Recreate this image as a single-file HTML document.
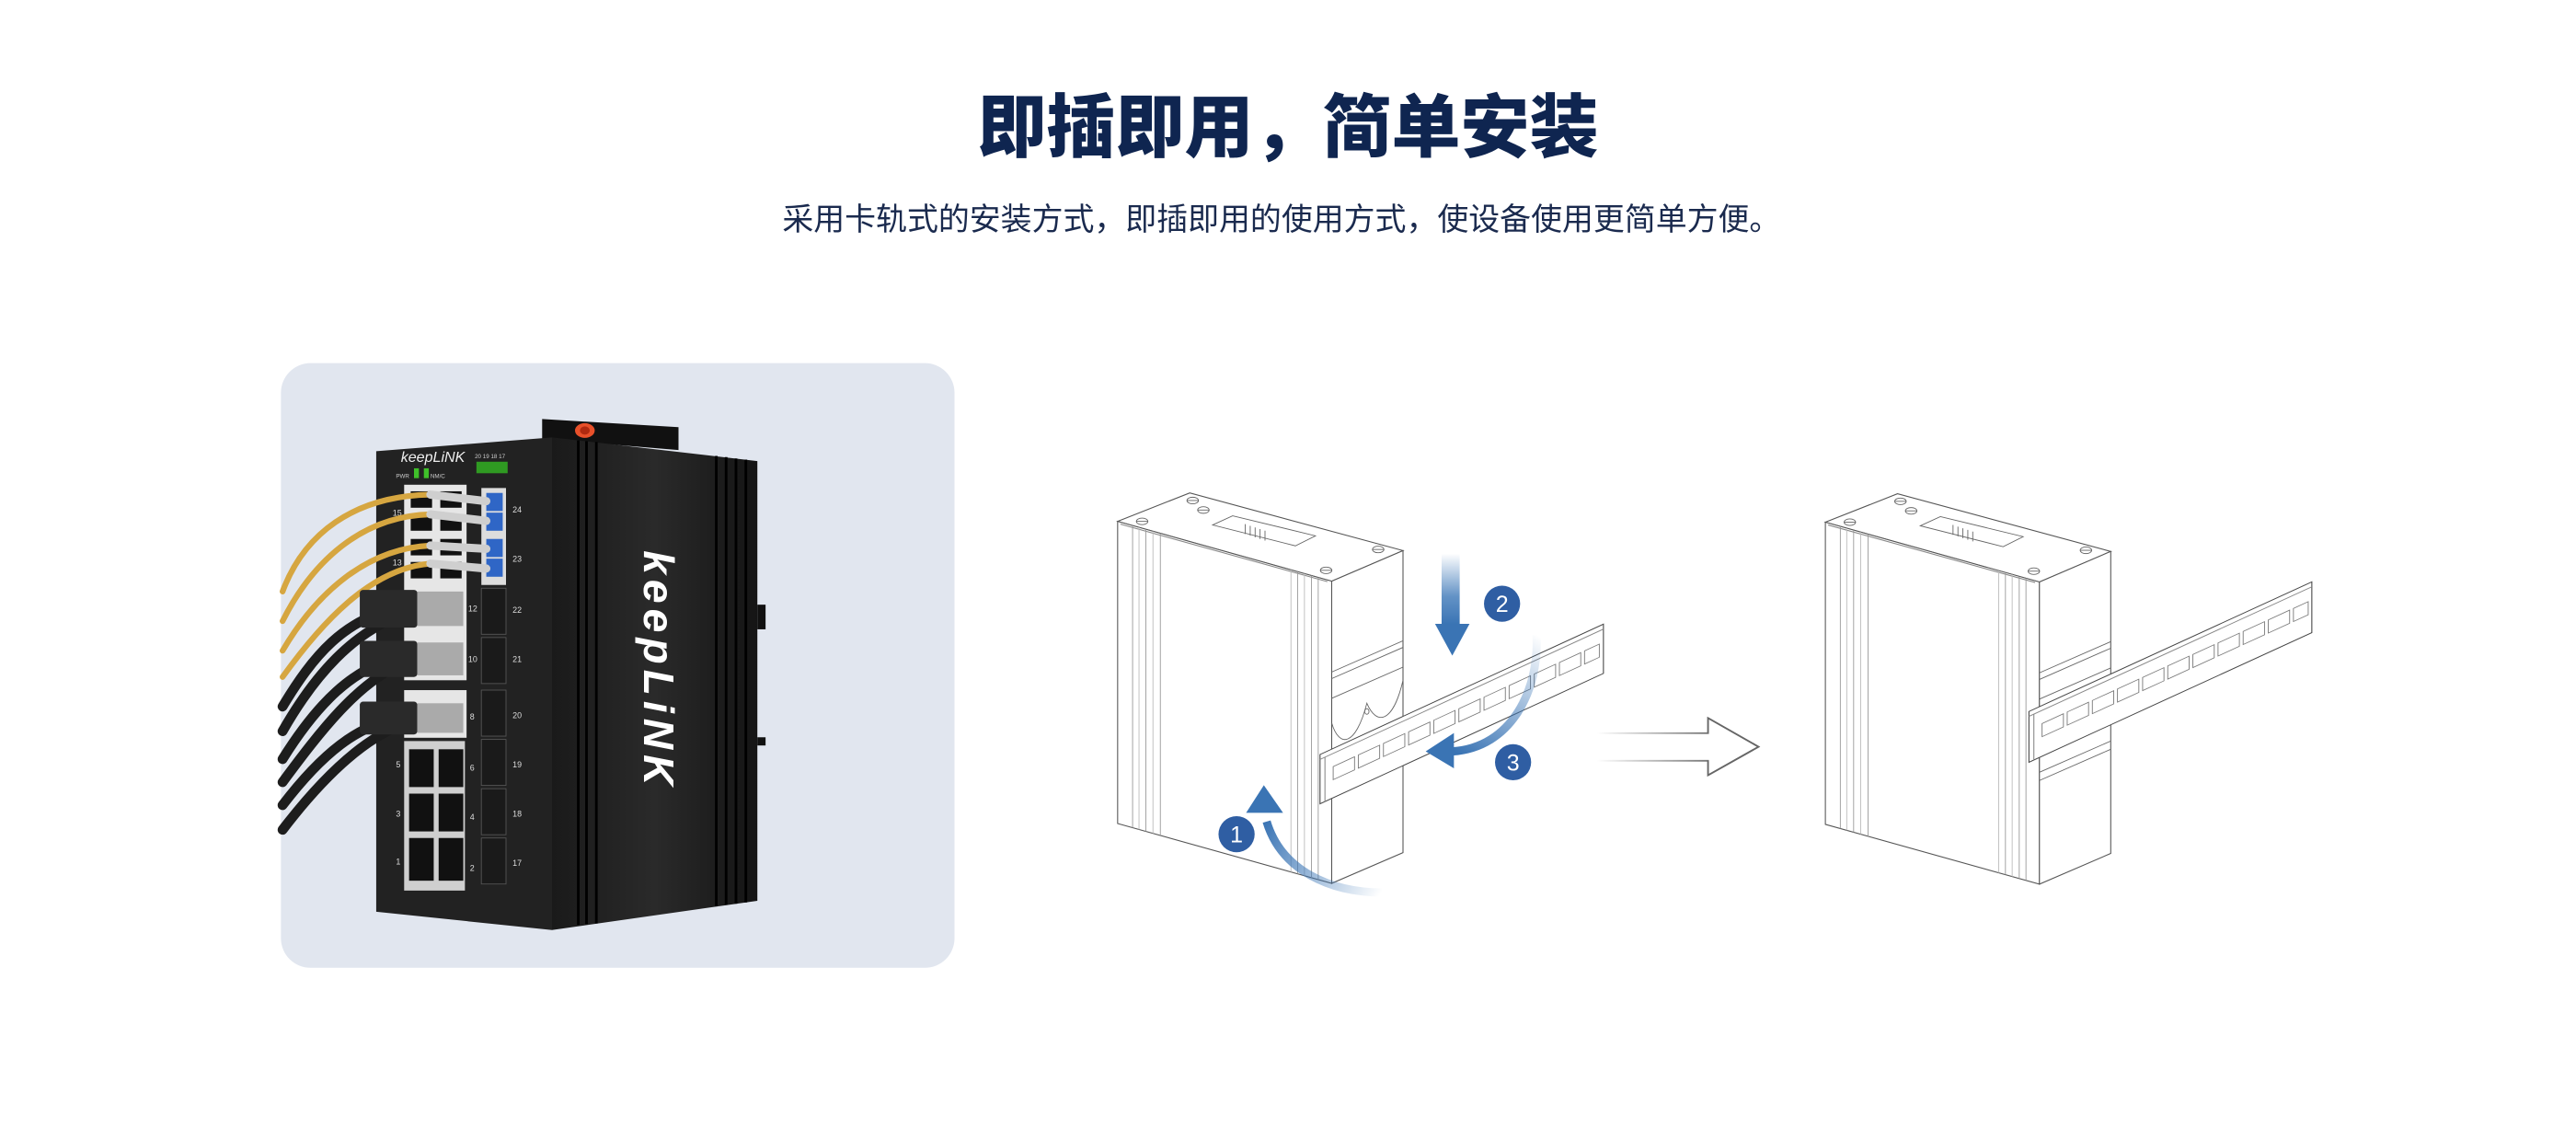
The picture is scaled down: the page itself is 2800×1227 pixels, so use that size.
<!DOCTYPE html>
<html><head><meta charset="utf-8">
<style>
html,body{margin:0;padding:0;background:#fff;}
body{width:2800px;height:1227px;overflow:hidden;}
svg{display:block;}
</style></head>
<body>
<svg width="2800" height="1227" viewBox="0 0 1568 687.1" xmlns="http://www.w3.org/2000/svg">
<defs>
  <linearGradient id="g2" x1="0" y1="0" x2="0" y2="1">
    <stop offset="0" stop-color="#3d78b8" stop-opacity="0"/>
    <stop offset="0.6" stop-color="#3d78b8" stop-opacity="0.8"/>
    <stop offset="1" stop-color="#3a74b4"/>
  </linearGradient>
  <linearGradient id="g3" gradientUnits="userSpaceOnUse" x1="935" y1="386" x2="890" y2="460">
    <stop offset="0" stop-color="#3d78b8" stop-opacity="0"/>
    <stop offset="1" stop-color="#3a74b4"/>
  </linearGradient>
  <linearGradient id="g1" gradientUnits="userSpaceOnUse" x1="841" y1="543" x2="770" y2="500">
    <stop offset="0" stop-color="#3d78b8" stop-opacity="0"/>
    <stop offset="1" stop-color="#3a74b4"/>
  </linearGradient>
  <linearGradient id="ga" gradientUnits="userSpaceOnUse" x1="972" y1="0" x2="1040" y2="0">
    <stop offset="0" stop-color="#777" stop-opacity="0"/>
    <stop offset="1" stop-color="#777"/>
  </linearGradient>
  <linearGradient id="side" x1="0" y1="0" x2="1" y2="0">
    <stop offset="0" stop-color="#1a1a1a"/>
    <stop offset="0.5" stop-color="#2a2a2a"/>
    <stop offset="1" stop-color="#151515"/>
  </linearGradient>
  <g id="holes" fill="none" stroke="#777" stroke-width="0.5">
    <rect x="8" y="11" width="13" height="8"/><rect x="23.3" y="11" width="13" height="8"/>
    <rect x="38.6" y="11" width="13" height="8"/><rect x="53.9" y="11" width="13" height="8"/>
    <rect x="69.2" y="11" width="13" height="8"/><rect x="84.5" y="11" width="13" height="8"/>
    <rect x="99.8" y="11" width="13" height="8"/><rect x="115.1" y="11" width="13" height="8"/>
    <rect x="130.4" y="11" width="13" height="8"/><rect x="145.7" y="11" width="13" height="8"/>
    <rect x="161" y="11" width="9" height="8"/>
  </g>
  <g id="box" fill="#fff" stroke="#555" stroke-width="0.6">
    <polygon points="680.3,317.3 724.2,300 854,335.1 810.6,353.7"/>
    <polygon points="680.3,317.3 810.6,353.7 810.6,537.6 680.3,501.2"/>
    <polygon points="810.6,353.7 854,335.1 854,518.9 810.6,537.6"/>
    <line x1="682" y1="319" x2="808" y2="354" stroke="#888"/>
    <g stroke="#999" stroke-width="0.5">
      <line x1="689.4" y1="319.8" x2="689.4" y2="503.7"/>
      <line x1="693.3" y1="320.9" x2="693.3" y2="504.8" stroke="#bbb"/>
      <line x1="697.5" y1="322.1" x2="697.5" y2="506"/>
      <line x1="701.8" y1="323.3" x2="701.8" y2="507.2" stroke="#bbb"/>
      <line x1="706.3" y1="324.6" x2="706.3" y2="508.5"/>
      <line x1="785.8" y1="346.8" x2="785.8" y2="530.7" stroke="#bbb"/>
      <line x1="789.9" y1="347.9" x2="789.9" y2="531.8"/>
      <line x1="794" y1="349.1" x2="794" y2="533" stroke="#bbb"/>
      <line x1="798.3" y1="350.3" x2="798.3" y2="534.2"/>
      <line x1="802.4" y1="351.4" x2="802.4" y2="535.3"/>
    </g>
    <g stroke="#666" stroke-width="0.5" fill="none">
      <ellipse cx="726" cy="304.6" rx="3.5" ry="2"/><line x1="722.5" y1="304.6" x2="729.5" y2="304.6"/>
      <ellipse cx="732.5" cy="310.4" rx="3.5" ry="2"/><line x1="729" y1="310.4" x2="736" y2="310.4"/>
      <ellipse cx="695.2" cy="317.3" rx="3.5" ry="2"/><line x1="691.7" y1="317.3" x2="698.7" y2="317.3"/>
      <ellipse cx="838.9" cy="334.4" rx="3.5" ry="2"/><line x1="835.4" y1="334.4" x2="842.4" y2="334.4"/>
      <ellipse cx="807.2" cy="347.1" rx="3.5" ry="2"/><line x1="803.7" y1="347.1" x2="810.7" y2="347.1"/>
      <polygon points="738.1,319.5 750.3,313.9 800.7,326.1 788.5,332.2"/>
      <path d="M758,319 v6 M761,320 v6 M764,321 v6 M767,322 v6 M770,323 v6"/>
      <line x1="810.6" y1="409" x2="854" y2="390"/>
      <line x1="810.6" y1="413" x2="854" y2="394"/>
      <line x1="810.6" y1="425" x2="854" y2="406"/>
      <path d="M810.6,440 C815,455 825,455 832,428 C838,442 848,440 854,414"/>
      <ellipse cx="832" cy="433" rx="1.3" ry="1.7"/>
    </g>
  </g>
</defs>

<text x="784" y="92" text-anchor="middle" font-family="'Liberation Sans','Noto Sans CJK SC',sans-serif" font-weight="900" font-size="42" fill="#0f2550">即插即用，简单安装</text>
<text x="780" y="140" text-anchor="middle" font-family="'Liberation Sans','Noto Sans CJK SC',sans-serif" font-size="19" fill="#1a2a4e">采用卡轨式的安装方式，即插即用的使用方式，使设备使用更简单方便。</text>

<rect x="171" y="221" width="410" height="368" rx="18" fill="#e1e6ef"/>

<g>
  <polygon points="330,255 413,260 413,273.9 330,267" fill="#111"/>
  <ellipse cx="356" cy="262" rx="6" ry="4.5" fill="#e8502a"/>
  <ellipse cx="356" cy="262" rx="3" ry="2.5" fill="#b02a10"/>
  <polygon points="336,266.2 461,280.6 461,548.2 336,566" fill="url(#side)"/>
  <g stroke="#000" stroke-width="1.6">
    <line x1="352" y1="268" x2="352" y2="563"/>
    <line x1="357" y1="268.5" x2="357" y2="562.5"/>
    <line x1="363" y1="269" x2="363" y2="562"/>
    <line x1="436" y1="277.5" x2="436" y2="551.5"/>
    <line x1="442" y1="278.2" x2="442" y2="550.7"/>
    <line x1="448" y1="279" x2="448" y2="550"/>
    <line x1="454" y1="279.7" x2="454" y2="549.2"/>
  </g>
  <rect x="461" y="368" width="5" height="15" fill="#111"/>
  <rect x="461" y="448.7" width="5" height="5" fill="#111"/>
  <polygon points="229,274.6 336,266.2 336,566 229,554.9" fill="#222"/>
  <text transform="translate(392,335) rotate(90)" font-family="'Liberation Sans',sans-serif" font-style="italic" font-weight="bold" font-size="26" fill="#fff" textLength="143">keepLiNK</text>
  <text x="244" y="281" font-family="'Liberation Sans',sans-serif" font-style="italic" font-size="9" fill="#eee">keepLiNK</text>
  <text x="241" y="291" font-family="'Liberation Sans',sans-serif" font-size="3.5" fill="#ccc">PWR</text>
  <rect x="252" y="285" width="3" height="6" fill="#3fbf2a"/>
  <rect x="258" y="285" width="3" height="6" fill="#3fbf2a"/>
  <text x="262" y="291" font-family="'Liberation Sans',sans-serif" font-size="3.5" fill="#ccc">NM/C</text>
  <text x="289" y="279" font-family="'Liberation Sans',sans-serif" font-size="3.5" fill="#ccc">20 19 18 17</text>
  <rect x="290" y="281" width="19" height="7" fill="#2f9a22"/>
  <rect x="246" y="295" width="38" height="119" fill="#e6e6e6"/>
  <rect x="246" y="420" width="38" height="29" fill="#e6e6e6"/>
  <rect x="246" y="451" width="37" height="91" fill="#cfcfcf"/>
  <g fill="#111">
    <rect x="250" y="299" width="13" height="10"/><rect x="268" y="299" width="13" height="10"/>
    <rect x="250" y="313" width="13" height="10"/><rect x="268" y="313" width="13" height="10"/>
    <rect x="250" y="328" width="13" height="10"/><rect x="268" y="328" width="13" height="10"/>
    <rect x="250" y="342" width="13" height="10"/><rect x="268" y="342" width="13" height="10"/>
    <rect x="249" y="456" width="15" height="23"/><rect x="267" y="456" width="15" height="23"/>
    <rect x="249" y="483" width="15" height="23"/><rect x="267" y="483" width="15" height="23"/>
    <rect x="249" y="510" width="15" height="26"/><rect x="267" y="510" width="15" height="26"/>
  </g>
  <rect x="293" y="297" width="15" height="59" fill="#ddd"/>
  <g fill="#2f66c6">
    <rect x="296" y="300" width="10" height="11"/><rect x="296" y="312" width="10" height="11"/>
    <rect x="296" y="328" width="10" height="11"/><rect x="296" y="340" width="10" height="11"/>
  </g>
  <g fill="#1a1a1a" stroke="#555" stroke-width="0.5">
    <rect x="293" y="358" width="15" height="28"/><rect x="293" y="388" width="15" height="28"/>
    <rect x="293" y="420" width="15" height="28"/><rect x="293" y="450" width="15" height="28"/>
    <rect x="293" y="480" width="15" height="28"/><rect x="293" y="510" width="15" height="28"/>
  </g>
  <g font-family="'Liberation Sans',sans-serif" font-size="5" fill="#ddd">
    <text x="312" y="312">24</text><text x="312" y="342">23</text><text x="312" y="373">22</text>
    <text x="312" y="403">21</text><text x="312" y="437">20</text><text x="312" y="467">19</text>
    <text x="312" y="497">18</text><text x="312" y="527">17</text>
    <text x="239" y="314">15</text><text x="239" y="344">13</text>
    <text x="285" y="372">12</text><text x="285" y="403">10</text><text x="286" y="438">8</text>
    <text x="241" y="467">5</text><text x="286" y="469">6</text><text x="241" y="497">3</text>
    <text x="286" y="499">4</text><text x="241" y="526">1</text><text x="286" y="530">2</text>
  </g>
  <g fill="none" stroke-linecap="round">
    <g stroke="#d6a640" stroke-width="3.5">
      <path d="M172,360 C185,325 215,302 262,301"/>
      <path d="M172,378 C190,342 220,314 262,313"/>
      <path d="M172,396 C192,362 222,334 262,332"/>
      <path d="M172,412 C195,380 225,346 262,343"/>
    </g>
    <g stroke="#cfcfcf" stroke-width="5">
      <path d="M262,301 L296,305"/><path d="M262,313 L296,317"/>
      <path d="M262,332 L296,334"/><path d="M262,343 L296,346"/>
    </g>
    <g stroke="#1d1d1d" stroke-width="6">
      <path d="M172,430 C190,400 210,375 245,370"/>
      <path d="M172,445 C192,410 215,385 245,374"/>
      <path d="M172,462 C192,430 215,405 245,400"/>
      <path d="M172,476 C195,445 218,415 245,404"/>
      <path d="M172,490 C195,460 218,440 245,437"/>
      <path d="M172,505 C195,475 220,450 245,441"/>
    </g>
  </g>
  <g fill="#2a2a2a">
    <rect x="219" y="359" width="35" height="23" rx="2"/>
    <rect x="219" y="390" width="35" height="22" rx="2"/>
    <rect x="219" y="427" width="35" height="20" rx="2"/>
  </g>
  <g fill="#aaa">
    <rect x="254" y="360" width="28" height="21"/>
    <rect x="254" y="391" width="28" height="20"/>
    <rect x="254" y="428" width="28" height="18"/>
  </g>
</g>

<use href="#box"/>
<path d="M841,543.2 C810,543 780,530 771,500" fill="none" stroke="url(#g1)" stroke-width="5"/>
<polygon points="769.3,477.9 758.5,494.7 781,494.7" fill="#3a74b4"/>
<g transform="matrix(1,-0.46,0,1,803.5,459.2)" fill="#fff" stroke="#444" stroke-width="0.6">
  <rect x="0" y="0" width="172.5" height="30"/>
  <line x1="0" y1="3" x2="172.5" y2="3" stroke="#888"/>
  <line x1="3" y1="3" x2="3" y2="30" stroke="#888"/>
  <use href="#holes"/>
</g>
<rect x="877.5" y="336.9" width="11" height="43" fill="url(#g2)"/>
<polygon points="873.5,379.7 894.5,379.7 884,399" fill="#3a74b4"/>
<path d="M935.3,386.4 C937,420 920,455 884,457.3" fill="none" stroke="url(#g3)" stroke-width="5"/>
<polygon points="867.8,457.3 885,446.1 885,467.6" fill="#3a74b4"/>
<g font-family="'Liberation Sans',sans-serif" font-size="14" fill="#fff" text-anchor="middle">
  <circle cx="914.3" cy="367.4" r="11" fill="#2f5ea3"/><text x="914.3" y="372.5">2</text>
  <circle cx="921" cy="463.9" r="11" fill="#2f5ea3"/><text x="921" y="469">3</text>
  <circle cx="752.7" cy="507.7" r="11" fill="#2f5ea3"/><text x="752.7" y="512.8">1</text>
</g>

<path d="M972.4,446.2 H1039.7 V437 L1070.4,454.5 L1039.7,471.8 V463 H972.4" fill="none" stroke="url(#ga)" stroke-width="1"/>
<path d="M1039.7,446.2 V437 L1070.4,454.5 L1039.7,471.8 V463" fill="none" stroke="#666" stroke-width="1"/>

<use href="#box" transform="translate(430.8,0.5)"/>
<g fill="none" stroke="#666" stroke-width="0.5">
  <line x1="1241.4" y1="470" x2="1284.8" y2="451"/>
  <line x1="1241.4" y1="475" x2="1284.8" y2="456"/>
</g>
<g transform="matrix(1,-0.458,0,1,1235,433)" fill="#fff" stroke="#444" stroke-width="0.6">
  <rect x="0" y="0" width="172.2" height="30.9"/>
  <line x1="0" y1="3" x2="172.2" y2="3" stroke="#888"/>
  <line x1="3" y1="3" x2="3" y2="30.9" stroke="#888"/>
  <use href="#holes"/>
</g>
</svg>
</body></html>
